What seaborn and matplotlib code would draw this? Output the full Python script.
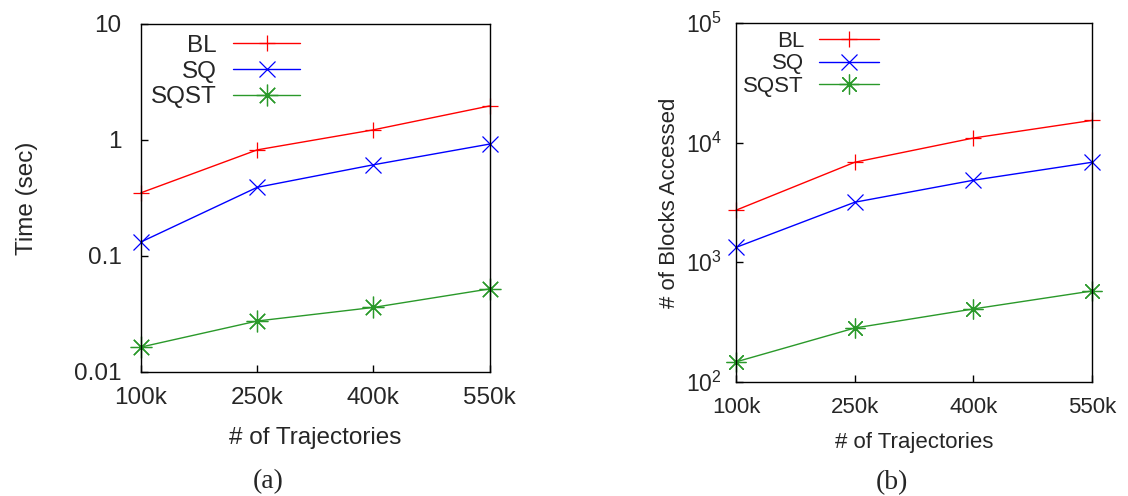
import matplotlib
matplotlib.use("Agg")
import matplotlib.pyplot as plt
import seaborn as sns
import pandas as pd

# ---- data ----
trajectories = [100, 250, 400, 550]
x_tick_labels = ["100k", "250k", "400k", "550k"]
methods = ["BL", "SQ", "SQST"]

time_bl = [0.35, 0.82, 1.22, 1.96]
time_sq = [0.132, 0.39, 0.61, 0.92]
time_sqst = [0.0164, 0.0275, 0.036, 0.052]

blocks_bl = [2720, 6840, 10900, 15300]
blocks_sq = [1330, 3170, 4840, 6840]
blocks_sqst = [147, 282, 407, 575]

time_ticks = [0.01, 0.1, 1, 10]
time_tick_labels = ["0.01", "0.1", "1", "10"]
block_ticks = [1e2, 1e3, 1e4, 1e5]
block_tick_labels = ["$10^{2}$", "$10^{3}$", "$10^{4}$", "$10^{5}$"]

sns.set_style("white")
plt.rcParams["font.family"] = ["Liberation Sans", "DejaVu Sans"]
plt.rcParams["mathtext.fontset"] = "custom"
plt.rcParams["mathtext.rm"] = "Liberation Sans"
plt.rcParams["mathtext.it"] = "Liberation Sans"

colors = {"BL": "#ff0000", "SQ": "#0000ff", "SQST": "#2a992a"}
markers = {"BL": "+", "SQ": "x", "SQST": (8, 2, 0)}
msize_scale = {"BL": 1.0, "SQ": 1.0, "SQST": 1.3}

fig = plt.figure(figsize=(11.28, 4.96), dpi=100)
ax1 = fig.add_axes([0.125, 0.25, 0.309, 0.702])
ax2 = fig.add_axes([0.6525, 0.230, 0.3156, 0.724])


def draw(ax, series, fs, ms):
    for m, vals in zip(methods, series):
        df = pd.DataFrame({"n": trajectories, "v": vals})
        sns.lineplot(data=df, x="n", y="v", ax=ax, color=colors[m], marker=markers[m],
                     markersize=ms * msize_scale[m], markeredgewidth=0.9, linewidth=1.0,
                     label=m, clip_on=False, mec=colors[m])
    ax.set_yscale("log")
    ax.set_xlim(100, 550)
    ax.set_xticks(trajectories)
    ax.set_xticklabels(x_tick_labels, fontsize=fs)
    ax.minorticks_off()
    ax.tick_params(axis="both", which="major", direction="in", length=5, width=1,
                   color="black", top=False, right=False, left=True, bottom=True)
    for s in ax.spines.values():
        s.set_color("black")
        s.set_linewidth(1.0)
        s.set_visible(True)


draw(ax1, [time_bl, time_sq, time_sqst], 17.5, 12)
ax1.set_ylim(0.01, 10)
ax1.set_yticks(time_ticks)
ax1.set_yticklabels(time_tick_labels, fontsize=17.5)
ax1.tick_params(axis="y", pad=14)
ax1.tick_params(axis="x", pad=11)
ax1.set_xlabel("# of Trajectories", fontsize=17.5, labelpad=13)
ax1.set_ylabel("Time (sec)", fontsize=17.5, labelpad=26)
ax1.legend(loc="upper right", bbox_to_anchor=(0.456, 0.968), frameon=False,
           markerfirst=False, fontsize=17.5, handlelength=2.75, handletextpad=0.66,
           labelspacing=0.15, borderpad=0, borderaxespad=0)

draw(ax2, [blocks_bl, blocks_sq, blocks_sqst], 16, 11)
ax2.set_ylim(1e2, 1e5)
ax2.set_yticks(block_ticks)
ax2.set_yticklabels(block_tick_labels, fontsize=16.5)
ax2.minorticks_off()
ax2.tick_params(axis="y", pad=10)
ax2.tick_params(axis="x", pad=11)
ax2.set_xlabel("# of Trajectories", fontsize=16, labelpad=10)
ax2.set_ylabel("# of Blocks Accessed", fontsize=16, labelpad=4)
ax2.legend(loc="upper right", bbox_to_anchor=(0.402, 0.978), frameon=False,
           markerfirst=False, fontsize=16, handlelength=2.7, handletextpad=0.68,
           labelspacing=0.08, borderpad=0, borderaxespad=0)

fig.text(268 / 1128, 1 - 482 / 496, "(a)", fontsize=20, ha="center", va="center",
         family=["Liberation Serif", "DejaVu Serif"])
fig.text(892 / 1128, 1 - 483 / 496, "(b)", fontsize=20, ha="center", va="center",
         family=["Liberation Serif", "DejaVu Serif"])

fig.savefig("out.png", dpi=100)
